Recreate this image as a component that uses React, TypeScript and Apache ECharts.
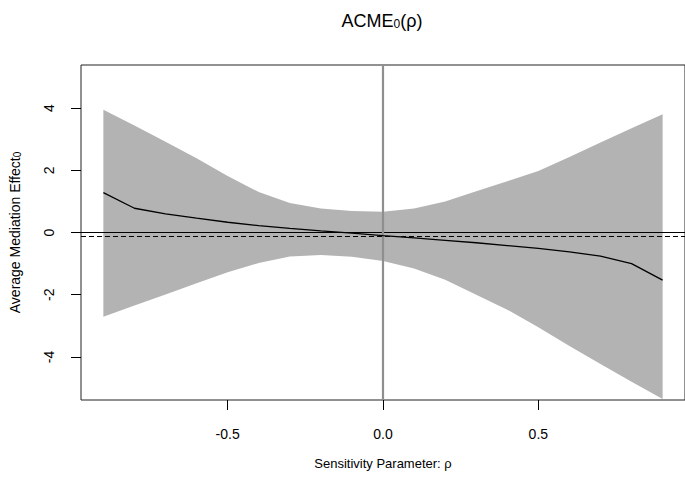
import React, { useEffect, useRef } from "react";
import * as echarts from "echarts";

const rho = [-0.9, -0.8, -0.7, -0.6, -0.5, -0.4, -0.3, -0.2, -0.1, 0, 0.1, 0.2, 0.3, 0.4, 0.5, 0.6, 0.7, 0.8, 0.9];
const acme = [1.28, 0.78, 0.6, 0.46, 0.33, 0.22, 0.13, 0.05, -0.02, -0.1, -0.17, -0.25, -0.33, -0.42, -0.51, -0.62, -0.76, -1.0, -1.53];
const upper = [3.95, 3.44, 2.92, 2.39, 1.82, 1.3, 0.95, 0.77, 0.69, 0.67, 0.77, 1.0, 1.33, 1.65, 1.98, 2.43, 2.89, 3.35, 3.8];
const lower = [-2.71, -2.35, -1.99, -1.63, -1.28, -0.98, -0.77, -0.72, -0.78, -0.92, -1.16, -1.52, -2.0, -2.48, -3.05, -3.65, -4.23, -4.8, -5.35];
const estimate = -0.12;
const xTicks = [-0.5, 0, 0.5];
const yTicks = [-4, -2, 0, 2, 4];

const FONT = "'Liberation Sans', Arial, Helvetica, sans-serif";

export default function App() {
  const ref = useRef<HTMLDivElement>(null);
  useEffect(() => {
    if (!ref.current) return;
    const chart = echarts.init(ref.current, null, { renderer: "svg" });
    const bandData = rho.map((r, i) => [r, lower[i], upper[i]]);
    chart.setOption({
      animation: false,
      backgroundColor: "#ffffff",
      textStyle: { fontFamily: FONT },
      graphic: [
        {
          type: "text",
          x: 382,
          y: 21,
          style: {
            text: "ACME{s|0}(ρ)",
            fontFamily: FONT,
            fontSize: 18,
            fill: "#000",
            align: "center",
            verticalAlign: "middle",
            rich: {
              s: { fontSize: 12, lineHeight: 12, verticalAlign: "bottom", fontFamily: FONT, fill: "#000" },
            },
          },
        },
      ],
      grid: {
        left: 76,
        top: 65,
        width: 612.4,
        height: 335,
        show: true,
        borderColor: "#222",
        borderWidth: 1,
        backgroundColor: "transparent",
        containLabel: false,
      },
      xAxis: {
        type: "value",
        min: -0.972,
        max: 0.972,
        name: "Sensitivity Parameter: ρ",
        nameLocation: "middle",
        nameGap: 57,
        nameTextStyle: { fontSize: 13, color: "#000", fontFamily: FONT, lineHeight: 13 },
        axisLine: { show: false, onZero: false },
        splitLine: { show: false },
        axisTick: { show: true, length: 10, customValues: xTicks, lineStyle: { color: "#000" } },
        axisLabel: {
          customValues: xTicks,
          margin: 27,
          fontSize: 14,
          lineHeight: 14,
          color: "#000",
          fontFamily: FONT,
          formatter: (v: number) => v.toFixed(1),
        },
      },
      yAxis: {
        type: "value",
        min: -5.385,
        max: 5.385,
        name: "Average Mediation Effect{s|0}",
        nameLocation: "middle",
        nameGap: 59,
        nameTextStyle: {
          fontSize: 14,
          color: "#000",
          fontFamily: FONT,
          rich: { s: { fontSize: 10, verticalAlign: "bottom", fontFamily: FONT } },
        },
        axisLine: { show: false, onZero: false },
        splitLine: { show: false },
        axisTick: { show: true, length: 10, customValues: yTicks, lineStyle: { color: "#000" } },
        axisLabel: {
          customValues: yTicks,
          rotate: 90,
          margin: 25,
          fontSize: 14,
          lineHeight: 14,
          color: "#000",
          fontFamily: FONT,
          formatter: (v: number) => String(v),
        },
      },
      series: [
        {
          type: "custom",
          name: "band",
          data: bandData,
          encode: { x: 0, y: [1, 2] },
          silent: true,
          z: 1,
          renderItem: (params: any, api: any) => {
            if (params.dataIndex !== 0) return null;
            const top = bandData.map((d) => api.coord([d[0], d[2]]));
            const bottom = bandData.map((d) => api.coord([d[0], d[1]])).reverse();
            return {
              type: "polygon",
              shape: { points: top.concat(bottom), smooth: 0 },
              style: { fill: "#b3b3b3", stroke: "none" },
            };
          },
        },
        {
          type: "line",
          name: "ACME",
          data: rho.map((r, i) => [r, acme[i]]),
          symbol: "none",
          lineStyle: { color: "#000", width: 1.3 },
          z: 5,
          silent: true,
          markLine: {
            silent: true,
            symbol: "none",
            label: { show: false },
            lineStyle: { color: "#000", width: 1, type: "solid" },
            data: [
              { yAxis: 0 },
              { yAxis: estimate, lineStyle: { type: [5, 3] } },
            ],
          },
        },
        {
          type: "line",
          name: "rho0",
          data: [],
          symbol: "none",
          z: 4,
          silent: true,
          markLine: {
            silent: true,
            symbol: "none",
            label: { show: false },
            lineStyle: { color: "#8f8f8f", width: 2.2, type: "solid", opacity: 1 },
            data: [{ xAxis: 0 }],
          },
        },
      ],
    });
    return () => chart.dispose();
  }, []);
  return <div ref={ref} style={{ position: "fixed", left: 0, top: 0, width: 685, height: 477 }} />;
}
